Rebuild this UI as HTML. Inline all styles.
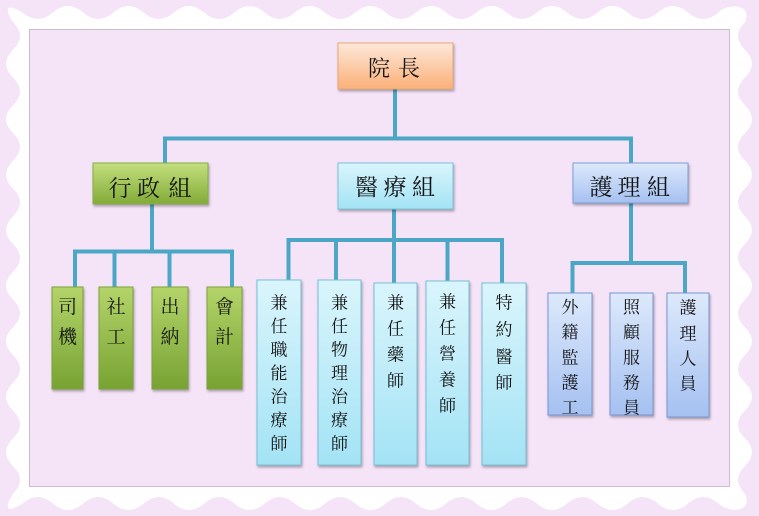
<!DOCTYPE html>
<html>
<head>
<meta charset="utf-8">
<style>
html,body{margin:0;padding:0;background:#f5e3f7;}
svg{display:block;}
text{font-family:"Noto Serif CJK SC","Noto Serif CJK TC","Liberation Serif","Noto Sans CJK TC",serif;fill:#141414;text-anchor:middle;}
</style>
</head>
<body>
<svg width="759" height="516" viewBox="0 0 759 516" xmlns="http://www.w3.org/2000/svg">
<defs>
<linearGradient id="gO" x1="0" y1="0" x2="0" y2="1"><stop offset="0" stop-color="#fde8da"/><stop offset="1" stop-color="#fbb078"/></linearGradient>
<linearGradient id="gG" x1="0" y1="0" x2="0" y2="1"><stop offset="0" stop-color="#c4df7e"/><stop offset="1" stop-color="#82ab38"/></linearGradient>
<linearGradient id="gGl" x1="0" y1="0" x2="0" y2="1"><stop offset="0" stop-color="#b4d46a"/><stop offset="1" stop-color="#77a332"/></linearGradient>
<linearGradient id="gC" x1="0" y1="0" x2="0" y2="1"><stop offset="0" stop-color="#daf5fc"/><stop offset="1" stop-color="#a3e3f5"/></linearGradient>
<linearGradient id="gB" x1="0" y1="0" x2="0" y2="1"><stop offset="0" stop-color="#dde9fb"/><stop offset="1" stop-color="#a5c1f1"/></linearGradient>
<filter id="sh" x="-20%" y="-20%" width="140%" height="140%"><feDropShadow dx="1" dy="2" stdDeviation="1.2" flood-color="#000" flood-opacity="0.3"/></filter>
</defs>

<rect x="0" y="0" width="759" height="516" fill="#f5e3f7"/>
<path fill="#ffffff" d="M22.6,12.5 q15.125,13 30.25,0 t30.25,0 t30.25,0 t30.25,0 t30.25,0 t30.25,0 t30.25,0 t30.25,0 t30.25,0 t30.25,0 t30.25,0 t30.25,0 t30.25,0 t30.25,0 t30.25,0 t30.25,0 t30.25,0 t30.25,0 t30.25,0 t30.25,0 t30.25,0 t30.25,0 t30.25,0
C728,3 753,4 745,22 q-14,13.875 0,27.75 t0,27.75 t0,27.75 t0,27.75 t0,27.75 t0,27.75 t0,27.75 t0,27.75 t0,27.75 t0,27.75 t0,27.75 t0,27.75 t0,27.75 t0,27.75 t0,27.75 t0,27.75 t0,27.75
C753,512 730,514 718.35,503.5 q-15.125,-13 -30.25,0 t-30.25,0 t-30.25,0 t-30.25,0 t-30.25,0 t-30.25,0 t-30.25,0 t-30.25,0 t-30.25,0 t-30.25,0 t-30.25,0 t-30.25,0 t-30.25,0 t-30.25,0 t-30.25,0 t-30.25,0 t-30.25,0 t-30.25,0 t-30.25,0 t-30.25,0 t-30.25,0 t-30.25,0 t-30.25,0
C6,514 4,508 13,493.75 q14,-13.875 0,-27.75 t0,-27.75 t0,-27.75 t0,-27.75 t0,-27.75 t0,-27.75 t0,-27.75 t0,-27.75 t0,-27.75 t0,-27.75 t0,-27.75 t0,-27.75 t0,-27.75 t0,-27.75 t0,-27.75 t0,-27.75 t0,-27.75
C4,8 6,3 22.6,12.5 Z"/>

<rect x="29.5" y="29.5" width="700" height="457" fill="#f5e3f7" stroke="#cbbfcd" stroke-width="1"/>

<!-- connectors -->
<g stroke="#4ca7c6" stroke-width="4" fill="none" stroke-linecap="square">
  <line x1="395" y1="89" x2="395" y2="138.5"/>
  <line x1="165" y1="138.5" x2="631" y2="138.5"/>
  <line x1="165" y1="138.5" x2="165" y2="163"/>
  <line x1="631" y1="138.5" x2="631" y2="163"/>
  <line x1="152" y1="204" x2="152" y2="251.5"/>
  <line x1="75" y1="251.5" x2="232" y2="251.5"/>
  <line x1="75" y1="251.5" x2="75" y2="287"/>
  <line x1="114.5" y1="251.5" x2="114.5" y2="287"/>
  <line x1="169.5" y1="251.5" x2="169.5" y2="287"/>
  <line x1="232" y1="251.5" x2="232" y2="287"/>
  <line x1="394" y1="209" x2="394" y2="240"/>
  <line x1="288.5" y1="240" x2="502" y2="240"/>
  <line x1="288.5" y1="240" x2="288.5" y2="280"/>
  <line x1="336" y1="240" x2="336" y2="280"/>
  <line x1="394" y1="240" x2="394" y2="283"/>
  <line x1="447.5" y1="240" x2="447.5" y2="281"/>
  <line x1="502" y1="240" x2="502" y2="283"/>
  <line x1="631" y1="203" x2="631" y2="263"/>
  <line x1="572.5" y1="263" x2="685" y2="263"/>
  <line x1="572.5" y1="263" x2="572.5" y2="293"/>
  <line x1="685" y1="263" x2="685" y2="293"/>
</g>

<!-- boxes -->
<g filter="url(#sh)">
  <rect x="338" y="43" width="115" height="46" fill="url(#gO)" stroke="#eaa672" stroke-width="1"/>
  <rect x="93" y="163" width="115" height="41" fill="url(#gG)" stroke="#86ad44" stroke-width="1"/>
  <rect x="338" y="163" width="115" height="46" fill="url(#gC)" stroke="#79c3da" stroke-width="1"/>
  <rect x="573" y="163" width="115" height="40" fill="url(#gB)" stroke="#7d9ed6" stroke-width="1"/>

  <rect x="52" y="287" width="31" height="102" fill="url(#gGl)" stroke="#7ba23a" stroke-width="1"/>
  <rect x="99" y="287" width="34" height="102" fill="url(#gGl)" stroke="#7ba23a" stroke-width="1"/>
  <rect x="152" y="287" width="36" height="102" fill="url(#gGl)" stroke="#7ba23a" stroke-width="1"/>
  <rect x="207" y="287" width="35" height="102" fill="url(#gGl)" stroke="#7ba23a" stroke-width="1"/>

  <rect x="257" y="280" width="44" height="185" fill="url(#gC)" stroke="#74bfd7" stroke-width="1"/>
  <rect x="318" y="280" width="43" height="185" fill="url(#gC)" stroke="#74bfd7" stroke-width="1"/>
  <rect x="374" y="283" width="43" height="182" fill="url(#gC)" stroke="#74bfd7" stroke-width="1"/>
  <rect x="426" y="281" width="43" height="184" fill="url(#gC)" stroke="#74bfd7" stroke-width="1"/>
  <rect x="482" y="283" width="44" height="182" fill="url(#gC)" stroke="#74bfd7" stroke-width="1"/>

  <rect x="548" y="293" width="44" height="122" fill="url(#gB)" stroke="#7797d2" stroke-width="1"/>
  <rect x="610" y="293" width="43" height="122" fill="url(#gB)" stroke="#7797d2" stroke-width="1"/>
  <rect x="667" y="293" width="42" height="124" fill="url(#gB)" stroke="#7797d2" stroke-width="1"/>
</g>

<!-- header text -->
<g font-size="22">
  <text x="379" y="76">院</text><text x="409" y="76">長</text>
</g>
<g font-size="23">
  <text x="120" y="196">行</text><text x="148.5" y="196">政</text><text x="180" y="196">組</text>
  <text x="366.5" y="195">醫</text><text x="395" y="195">療</text><text x="423.5" y="195">組</text>
  <text x="601" y="195">護</text><text x="629" y="195">理</text><text x="658.5" y="195">組</text>
</g>

<!-- green leaves -->
<g font-size="19">
  <text x="67.5" y="313">司</text><text x="67.5" y="343">機</text>
  <text x="116" y="313">社</text><text x="116" y="343">工</text>
  <text x="170" y="313">出</text><text x="170" y="343">納</text>
  <text x="224.5" y="313">會</text><text x="224.5" y="343">計</text>
</g>

<!-- cyan leaves -->
<g font-size="17">
  <text x="279" y="308.5">兼</text><text x="279" y="332">任</text><text x="279" y="355.5">職</text><text x="279" y="379">能</text><text x="279" y="402.5">治</text><text x="279" y="426">療</text><text x="279" y="449.5">師</text>
  <text x="339.5" y="308.5">兼</text><text x="339.5" y="332">任</text><text x="339.5" y="355.5">物</text><text x="339.5" y="379">理</text><text x="339.5" y="402.5">治</text><text x="339.5" y="426">療</text><text x="339.5" y="449.5">師</text>
  <text x="395.5" y="308.5">兼</text><text x="395.5" y="334.5">任</text><text x="395.5" y="360.5">藥</text><text x="395.5" y="386.5">師</text>
  <text x="447.5" y="307.5">兼</text><text x="447.5" y="333.5">任</text><text x="447.5" y="359.5">營</text><text x="447.5" y="385.5">養</text><text x="447.5" y="411.5">師</text>
  <text x="504" y="308.5">特</text><text x="504" y="335.5">約</text><text x="504" y="362.5">醫</text><text x="504" y="388.5">師</text>
</g>

<!-- blue leaves -->
<g font-size="17">
  <text x="570" y="313">外</text><text x="570" y="338">籍</text><text x="570" y="363.5">監</text><text x="570" y="388.5">護</text><text x="570" y="413.5">工</text>
  <text x="631.5" y="313">照</text><text x="631.5" y="338">顧</text><text x="631.5" y="363.5">服</text><text x="631.5" y="388.5">務</text><text x="631.5" y="413.5">員</text>
  <text x="688" y="313.5">護</text><text x="688" y="339.5">理</text><text x="688" y="364.5">人</text><text x="688" y="389.5">員</text>
</g>
</svg>
</body>
</html>
